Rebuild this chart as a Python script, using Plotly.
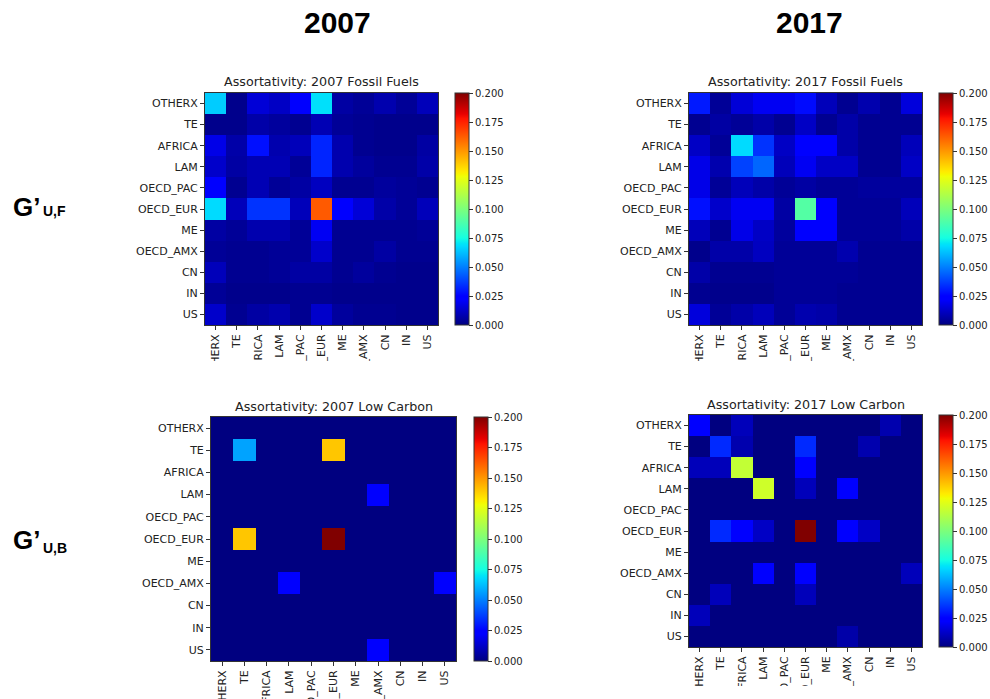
import numpy as np
import plotly.graph_objects as go

regions = ["OTHERX", "TE", "AFRICA", "LAM", "OECD_PAC", "OECD_EUR",
           "ME", "OECD_AMX", "CN", "IN", "US"]

ff_2007 = [
    [0.065, 0.002, 0.015, 0.012, 0.022, 0.069, 0.006, 0.004, 0.008, 0.004, 0.010],
    [0.002, 0.002, 0.007, 0.005, 0.003, 0.009, 0.004, 0.003, 0.002, 0.002, 0.002],
    [0.018, 0.007, 0.028, 0.008, 0.010, 0.032, 0.008, 0.003, 0.002, 0.002, 0.006],
    [0.013, 0.006, 0.009, 0.009, 0.004, 0.032, 0.008, 0.005, 0.003, 0.003, 0.007],
    [0.025, 0.003, 0.009, 0.004, 0.006, 0.011, 0.003, 0.003, 0.005, 0.004, 0.003],
    [0.068, 0.010, 0.035, 0.035, 0.010, 0.163, 0.022, 0.015, 0.007, 0.004, 0.010],
    [0.006, 0.004, 0.008, 0.008, 0.004, 0.020, 0.003, 0.003, 0.003, 0.003, 0.004],
    [0.004, 0.003, 0.003, 0.004, 0.004, 0.013, 0.003, 0.003, 0.006, 0.003, 0.003],
    [0.010, 0.003, 0.003, 0.004, 0.006, 0.006, 0.003, 0.005, 0.003, 0.002, 0.002],
    [0.004, 0.002, 0.002, 0.002, 0.003, 0.003, 0.002, 0.002, 0.002, 0.002, 0.002],
    [0.013, 0.003, 0.006, 0.008, 0.003, 0.013, 0.005, 0.003, 0.003, 0.002, 0.002],
]

ff_2017 = [
    [0.030, 0.004, 0.015, 0.020, 0.020, 0.027, 0.010, 0.003, 0.008, 0.003, 0.016],
    [0.003, 0.006, 0.004, 0.007, 0.003, 0.012, 0.003, 0.007, 0.003, 0.003, 0.003],
    [0.012, 0.004, 0.068, 0.035, 0.012, 0.022, 0.022, 0.007, 0.003, 0.003, 0.010],
    [0.018, 0.008, 0.038, 0.045, 0.010, 0.020, 0.012, 0.012, 0.003, 0.003, 0.012],
    [0.018, 0.004, 0.010, 0.007, 0.004, 0.006, 0.004, 0.004, 0.005, 0.005, 0.005],
    [0.028, 0.013, 0.020, 0.020, 0.006, 0.090, 0.022, 0.004, 0.004, 0.004, 0.010],
    [0.010, 0.003, 0.018, 0.012, 0.005, 0.023, 0.023, 0.004, 0.004, 0.004, 0.007],
    [0.002, 0.007, 0.007, 0.011, 0.004, 0.004, 0.004, 0.008, 0.003, 0.003, 0.003],
    [0.007, 0.003, 0.003, 0.003, 0.004, 0.004, 0.004, 0.004, 0.003, 0.003, 0.003],
    [0.003, 0.002, 0.002, 0.002, 0.004, 0.004, 0.004, 0.003, 0.003, 0.003, 0.003],
    [0.016, 0.004, 0.007, 0.010, 0.004, 0.008, 0.007, 0.003, 0.003, 0.003, 0.003],
]

lc_2007 = [
    [0.0, 0.0, 0.0, 0.0, 0.0, 0.0, 0.0, 0.0, 0.0, 0.0, 0.0],
    [0.0, 0.057, 0.0, 0.0, 0.0, 0.140, 0.0, 0.0, 0.0, 0.0, 0.0],
    [0.0, 0.0, 0.0, 0.0, 0.0, 0.0, 0.0, 0.0, 0.0, 0.0, 0.0],
    [0.0, 0.0, 0.0, 0.0, 0.0, 0.0, 0.0, 0.022, 0.0, 0.0, 0.0],
    [0.0, 0.0, 0.0, 0.0, 0.0, 0.0, 0.0, 0.0, 0.0, 0.0, 0.0],
    [0.0, 0.140, 0.0, 0.0, 0.0, 0.200, 0.0, 0.0, 0.0, 0.0, 0.0],
    [0.0, 0.0, 0.0, 0.0, 0.0, 0.0, 0.0, 0.0, 0.0, 0.0, 0.0],
    [0.0, 0.0, 0.0, 0.022, 0.0, 0.0, 0.0, 0.0, 0.0, 0.0, 0.022],
    [0.0, 0.0, 0.0, 0.0, 0.0, 0.0, 0.0, 0.0, 0.0, 0.0, 0.0],
    [0.0, 0.0, 0.0, 0.0, 0.0, 0.0, 0.0, 0.0, 0.0, 0.0, 0.0],
    [0.0, 0.0, 0.0, 0.0, 0.0, 0.0, 0.0, 0.022, 0.0, 0.0, 0.0],
]

lc_2017 = [
    [0.022, 0.0, 0.010, 0.0, 0.0, 0.0, 0.0, 0.0, 0.0, 0.008, 0.0],
    [0.0, 0.033, 0.008, 0.0, 0.0, 0.033, 0.0, 0.0, 0.008, 0.0, 0.0],
    [0.010, 0.010, 0.117, 0.0, 0.0, 0.023, 0.0, 0.0, 0.0, 0.0, 0.0],
    [0.0, 0.0, 0.0, 0.120, 0.0, 0.010, 0.0, 0.022, 0.0, 0.0, 0.0],
    [0.0, 0.0, 0.0, 0.0, 0.0, 0.0, 0.0, 0.0, 0.0, 0.0, 0.0],
    [0.0, 0.033, 0.025, 0.012, 0.0, 0.200, 0.0, 0.022, 0.012, 0.0, 0.0],
    [0.0, 0.0, 0.0, 0.0, 0.0, 0.0, 0.0, 0.0, 0.0, 0.0, 0.0],
    [0.0, 0.0, 0.0, 0.022, 0.0, 0.022, 0.0, 0.0, 0.0, 0.0, 0.010],
    [0.0, 0.010, 0.0, 0.0, 0.0, 0.010, 0.0, 0.0, 0.0, 0.0, 0.0],
    [0.010, 0.0, 0.0, 0.0, 0.0, 0.0, 0.0, 0.0, 0.0, 0.0, 0.0],
    [0.0, 0.0, 0.0, 0.0, 0.0, 0.0, 0.0, 0.007, 0.0, 0.0, 0.0],
]

panel_titles = ["Assortativity: 2007 Fossil Fuels", "Assortativity: 2017 Fossil Fuels",
                "Assortativity: 2007 Low Carbon", "Assortativity: 2017 Low Carbon"]
year_labels = ["2007", "2017"]
row_labels = [("G’", "U,F"), ("G’", "U,B")]
cbar_ticks = [0.0, 0.025, 0.05, 0.075, 0.1, 0.125, 0.15, 0.175, 0.2]

# matplotlib "jet" colormap
_jet = {
    "r": [(0.0, 0.0), (0.35, 0.0), (0.66, 1.0), (0.89, 1.0), (1.0, 0.5)],
    "g": [(0.0, 0.0), (0.125, 0.0), (0.375, 1.0), (0.64, 1.0), (0.91, 0.0), (1.0, 0.0)],
    "b": [(0.0, 0.5), (0.11, 1.0), (0.34, 1.0), (0.65, 0.0), (1.0, 0.0)],
}
stops = sorted({p for ch in _jet.values() for p, _ in ch})
jet = []
for s in stops:
    rgb = [int(round(255 * np.interp(s, [p for p, _ in _jet[c]], [v for _, v in _jet[c]])))
           for c in "rgb"]
    jet.append([s, "rgb(%d,%d,%d)" % tuple(rgb)])

W, H = 990, 699


def fx(p):
    return p / W


def fy(p):
    return 1 - p / H


# pixel boxes: (x0, x1, y0, y1, colorbar_left, title_y)
boxes = [
    (205, 438, 93, 325, 455, 82),
    (689, 922, 93, 325, 939, 82),
    (211, 456, 417, 661, 474, 406),
    (689, 922, 415, 647, 939, 404),
]
datas = [ff_2007, ff_2017, lc_2007, lc_2017]

fig = go.Figure()
tick_font = dict(family="DejaVu Sans", size=11, color="#222")
annotations = []
layout = {}
for i, (z, (x0, x1, y0, y1, cbl, ty)) in enumerate(zip(datas, boxes)):
    n = "" if i == 0 else str(i + 1)
    fig.add_trace(go.Heatmap(
        z=z, x=regions, y=regions, xaxis="x" + n, yaxis="y" + n,
        colorscale=jet, zmin=0, zmax=0.2, xgap=0, ygap=0,
        colorbar=dict(
            x=fx(cbl), xanchor="left", xpad=0, ypad=0,
            y=fy(y0), yanchor="top", len=y1 - y0, lenmode="pixels",
            thickness=14, thicknessmode="pixels",
            outlinecolor="#333", outlinewidth=1,
            tickvals=cbar_ticks, tickformat=".3f",
            ticks="outside", ticklen=4, tickcolor="#333",
            tickfont=dict(family="DejaVu Sans", size=10, color="#222"),
        ),
    ))
    axcommon = dict(showline=True, mirror=True, linecolor="#333", linewidth=1,
                    ticks="outside", ticklen=4, tickcolor="#333", tickfont=tick_font,
                    showgrid=False, zeroline=False, fixedrange=True, automargin=False)
    layout["xaxis" + n] = dict(domain=[fx(x0), fx(x1)], anchor="y" + n,
                               tickangle=-90, **axcommon)
    layout["yaxis" + n] = dict(domain=[fy(y1), fy(y0)], anchor="x" + n,
                               autorange="reversed", **axcommon)
    annotations.append(dict(
        text=panel_titles[i], x=fx((x0 + x1) / 2), y=fy(ty), xref="paper", yref="paper",
        xanchor="center", yanchor="middle", showarrow=False,
        font=dict(family="DejaVu Sans", size=12.7, color="#222")))

for j, (lab, cx) in enumerate(zip(year_labels, [337, 809])):
    annotations.append(dict(
        text="<b>%s</b>" % lab, x=fx(cx), y=fy(23), xref="paper", yref="paper",
        xanchor="center", yanchor="middle", showarrow=False,
        font=dict(family="Liberation Sans Narrow, Liberation Sans, Arial", size=30, color="#000")))

for (g, sub), gy, sy in zip(row_labels, [207, 540], [211, 548]):
    annotations.append(dict(
        text="<b>%s</b>" % g, x=fx(11), y=fy(gy), xref="paper", yref="paper",
        xanchor="left", yanchor="middle", showarrow=False,
        font=dict(family="Liberation Sans, Arial", size=26, color="#000")))
    annotations.append(dict(
        text="<b>%s</b>" % sub, x=fx(41), y=fy(sy), xref="paper", yref="paper",
        xanchor="left", yanchor="middle", showarrow=False,
        font=dict(family="Liberation Sans, Arial", size=14, color="#000")))

# white masks reproducing the clipping of the rotated tick labels
shapes = [
    dict(type="rect", xref="paper", yref="paper", layer="above",
         x0=fx(140), x1=fx(990), y0=fy(398), y1=fy(361),
         fillcolor="white", line=dict(width=0)),
    dict(type="rect", xref="paper", yref="paper", layer="above",
         x0=fx(640), x1=fx(990), y0=fy(699), y1=fy(686),
         fillcolor="white", line=dict(width=0)),
]

fig.update_layout(
    width=W, height=H, margin=dict(l=0, r=0, t=0, b=0, autoexpand=False),
    paper_bgcolor="white", plot_bgcolor="white",
    annotations=annotations, shapes=shapes, showlegend=False,
    **layout,
)
fig.write_html("out.html")
